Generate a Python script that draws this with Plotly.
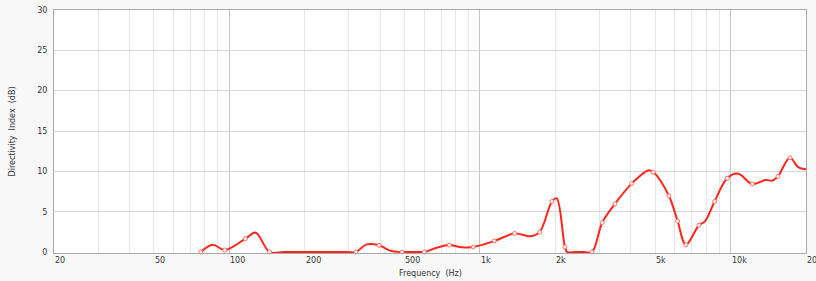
import math
import plotly.graph_objects as go

# Smoothed response curve (frequency in Hz, directivity index in dB)
curve_freq = [77, 86, 96, 116, 127.5, 145, 165, 200, 260, 295, 320, 353, 396, 440, 489, 530, 570,
              600, 672, 755, 846, 940, 1141, 1376, 1600, 1732, 1938, 2024, 2184, 2230, 2400, 2600,
              2800, 3078, 3458, 4031, 4696, 4916, 5678, 6150, 6638, 7480, 7900, 8638, 9700, 10733,
              12202, 13800, 14700, 15451, 17258, 18600, 20000]
curve_db = [0, 0.9, 0.25, 1.65, 2.4, 0, 0, 0, 0, 0, 0, 0.95, 0.83, 0.15, 0, 0, 0,
            0, 0.53, 0.86, 0.6, 0.62, 1.36, 2.3, 1.97, 2.47, 6.26, 6.67, 0.62, 0, 0, 0,
            0, 3.66, 5.97, 8.48, 10.12, 9.91, 6.95, 3.83, 0.9, 3.33, 3.8, 6.26, 9.14, 9.71,
            8.44, 8.93, 8.85, 9.38, 11.69, 10.53, 10.25]

# Measured points drawn with markers
marker_freq = [77, 96, 116, 145, 320, 396, 489, 600, 755, 940, 1141, 1376, 1732, 1938, 2184,
               2800, 3078, 3458, 4031, 4916, 5678, 6150, 6638, 7480, 8638, 9700, 12202, 15451, 17258]
marker_db = [0, 0.25, 1.65, 0, 0, 0.83, 0, 0, 0.86, 0.62, 1.36, 2.3, 2.47, 6.26, 0.62,
             0, 3.66, 5.97, 8.48, 9.91, 6.95, 3.83, 0.9, 3.33, 6.26, 9.14, 8.44, 9.38, 11.69]

x_tick_values = [20, 50, 100, 200, 500, 1000, 2000, 5000, 10000, 20000]
x_tick_labels = ["20", "50", "100", "200", "500", "1k", "2k", "5k", "10k", "20"]
x_major_grid = [100, 1000, 10000]
x_minor_grid = [30, 40, 50, 60, 70, 80, 90, 200, 300, 400, 500, 600, 700, 800, 900,
                2000, 3000, 4000, 5000, 6000, 7000, 8000, 9000]
y_tick_values = [0, 5, 10, 15, 20, 25, 30]

FONT = "DejaVu Sans"
TXT = "#333333"
RED = "rgb(255,38,28)"

fig = go.Figure()
fig.add_trace(go.Scatter(
    x=curve_freq, y=curve_db, mode="lines",
    line=dict(color=RED, width=2, shape="spline", smoothing=1.0),
    hoverinfo="skip", showlegend=False,
))
fig.add_trace(go.Scatter(
    x=marker_freq, y=marker_db, mode="markers",
    marker=dict(size=4, color="white", line=dict(color="rgb(255,110,100)", width=1)),
    showlegend=False, cliponaxis=False,
))

for v, t in zip(x_tick_values, x_tick_labels):
    fig.add_annotation(
        x=math.log10(v), y=0, xref="x", yref="paper",
        text=t, showarrow=False, xanchor="left", yanchor="top",
        xshift=-1, yshift=-1,
        font=dict(family=FONT, size=8, color=TXT),
    )

fig.add_annotation(
    x=0.5, y=0, xref="paper", yref="paper", text="Frequency  (Hz)",
    showarrow=False, xanchor="center", yanchor="top", yshift=-14,
    font=dict(family=FONT, size=8, color=TXT),
)
fig.add_annotation(
    x=0, y=0.5, xref="paper", yref="paper", text="Directivity  Index  (dB)",
    showarrow=False, xanchor="center", yanchor="middle", xshift=-42, textangle=-90,
    font=dict(family=FONT, size=8, color=TXT),
)

fig.update_layout(
    width=816, height=281,
    margin=dict(l=54, r=10, t=10, b=28),
    paper_bgcolor="#f8f8f8",
    plot_bgcolor="#ffffff",
    font=dict(family=FONT, size=8, color=TXT),
    xaxis=dict(
        type="log",
        range=[math.log10(20), math.log10(20000)],
        tickvals=x_major_grid,
        showticklabels=False,
        ticks="",
        showgrid=True, gridcolor="#c4c4c4", gridwidth=1,
        minor=dict(tickvals=x_minor_grid, showgrid=True, gridcolor="#e6e6e6", gridwidth=1, ticks=""),
        showline=True, linecolor="#a8a8a8", linewidth=1, mirror=True,
        zeroline=False, automargin=False,
    ),
    yaxis=dict(
        range=[-0.12, 30],
        tickvals=y_tick_values,
        ticks="",
        ticklabelstandoff=4,
        showgrid=True, gridcolor="#d6d6d6", gridwidth=1,
        showline=True, linecolor="#a8a8a8", linewidth=1, mirror=True,
        zeroline=False, automargin=False,
        tickfont=dict(family=FONT, size=8, color=TXT),
    ),
)

fig.write_html(
    "out.html",
    config={"displayModeBar": False},
    post_script="document.body.style.margin='0';document.body.style.background='#f8f8f8';",
)
